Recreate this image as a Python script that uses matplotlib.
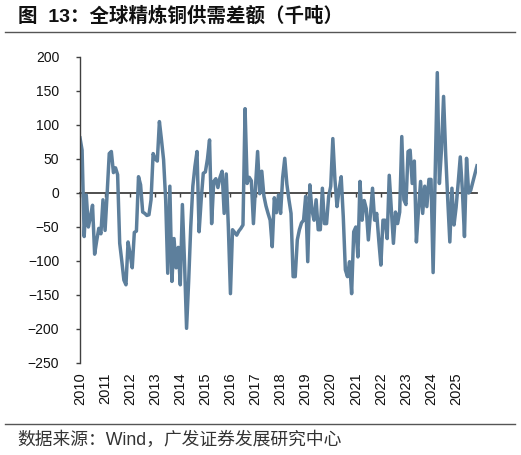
import matplotlib.pyplot as plt
import numpy as np

# 全球精炼铜供需差额（千吨），月度，2010年1月起
years = [str(y) for y in range(2010, 2026)]
gap = [
    81, 63, -64, -3, -50, -35, -18, -90, -70, -52, -60, -10,          # 2010
    -55, 0, 58, 61, 30, 37, 27, -74, -100, -128, -135, -72,           # 2011
    -90, -110, -58, -56, 24, 12, -28, -30, -33, -32, -10, 58,         # 2012
    50, 47, 105, 78, 49, -10, -118, 10, -130, -67, -110, -80,         # 2013
    -135, -17, -100, -199, -130, -50, 10, 39, 61, -57, -10, 29,       # 2014
    31, 50, 78, -45, 17, 21, 8, 23, 32, -30, 28, -50,                 # 2015
    -148, -54, -58, -62, -56, -52, -47, 124, 14, 23, 18, -45,         # 2016
    10, 61, -1, 32, -4, -19, -30, -40, -79, -7, -29, -3,              # 2017
    -30, 23, 51, 13, -10, -30, -123, -123, -69, -54, -44, -40,        # 2018
    -5, -101, 12, -25, -40, -10, -54, -54, 7, -45, -45, -5,           # 2019
    10, 80, 20, -20, 5, 24, -35, -113, -123, -101, -148, -57,         # 2020
    -50, -94, 17, -40, -11, -23, -69, -30, 7, -40, -30, -70,          # 2021
    -106, -40, -40, -67, 26, -25, -74, -28, -45, -28, 83, -10,        # 2022
    -17, 61, 63, 14, 47, -72, -25, 17, -30, 10, -20, 20,              # 2023
    20, -117, 30, 177, 14, 64, 142, 58, -10, -72, 7, -47,             # 2024
    -21, 15, 53, 4, -64, 51, 0, 4, 16, 28, 40,                        # 2025
]
y_ticks = list(range(-250, 201, 50))

plt.rcParams['font.family'] = ['Liberation Sans', 'Noto Sans CJK SC']

W, H = 521, 455
fig = plt.figure(figsize=(W / 100, H / 100), dpi=100)
ax = fig.add_axes([80 / W, 1 - 363 / H, 397 / W, 306 / H])

x = np.arange(len(gap))
ax.plot(x, gap, color='#5d7f9c', linewidth=2.5, solid_joinstyle='round')

ax.set_xlim(0, len(gap) - 1)
ax.set_ylim(-250, 200)
ax.set_yticks(y_ticks)
year_pos = np.arange(len(years)) * 12
ax.set_xticks(year_pos, labels=years)

for side in ['top', 'right', 'bottom']:
    ax.spines[side].set_visible(False)
ax.spines['left'].set_color('#404040')
ax.spines['left'].set_linewidth(1.0)
ax.tick_params(axis='y', direction='out', length=3, width=1, color='#404040',
               labelsize=10, pad=12, labelcolor='#111111')
ax.tick_params(axis='x', length=0, labelrotation=90, labelsize=10.5, pad=7,
               labelcolor='#111111')

# 零轴及年份刻度
zero = ax.secondary_xaxis(250 / 450)
zero.set_alignment('bottom')
zero.set_xticks(year_pos, labels=[])
zero.spines['bottom'].set_color('#404040')
zero.spines['bottom'].set_linewidth(1.3)
zero.tick_params(axis='x', direction='out', length=3, width=1, color='#404040')

# 标题与来源
fig.text(18 / W, 1 - 16 / H, '图  13：全球精炼铜供需差额（千吨）', fontsize=14,
         fontweight='bold', va='center', ha='left', color='#111111')
fig.add_artist(plt.Line2D([5 / W, 515 / W], [1 - 32 / H, 1 - 32 / H],
                          color='#555555', linewidth=1.0))
fig.add_artist(plt.Line2D([5 / W, 515 / W], [1 - 424 / H, 1 - 424 / H],
                          color='#555555', linewidth=1.0))
fig.text(17 / W, 1 - 440 / H, '数据来源：Wind，广发证券发展研究中心', fontsize=12.8,
         va='center', ha='left', color='#333333')

fig.savefig('out.png', dpi=100)
